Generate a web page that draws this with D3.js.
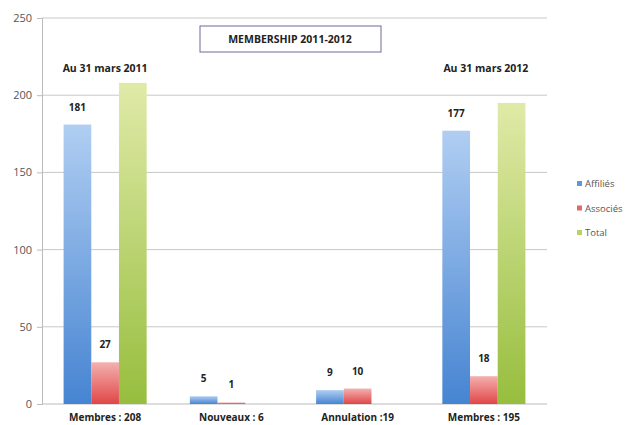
<!DOCTYPE html>
<html>
<head>
<meta charset="utf-8">
<script src="https://cdn.jsdelivr.net/npm/d3@7"></script>
<style>
  body { margin: 0; background: #fff; }
  text { font-family: "Open Sans", "DejaVu Sans", sans-serif; }
</style>
</head>
<body>
<svg width="627" height="425"></svg>
<script>
// data
var categories = ['Membres : 208', 'Nouveaux : 6', 'Annulation :19', 'Membres : 195'];
var seriesNames = ['Affiliés', 'Associés', 'Total'];
var affilies = [181, 5, 9, 177];
var associes = [27, 1, 10, 18];
var total = [208, null, null, 195];
var yTicks = [0, 50, 100, 150, 200, 250];

var svg = d3.select('svg');

var plotLeft = 42, plotRight = 547, plotTop = 18, plotBottom = 404;

var scaleX = d3.scaleBand().domain(categories).range([plotLeft, plotRight]);
var scaleSeries = d3.scaleBand().domain(seriesNames)
    .range([0, scaleX.bandwidth()]).paddingOuter(0.78).paddingInner(0);
var scaleY = d3.scaleLinear().domain([0, 250]).range([plotBottom, plotTop]);

// gradients, light at top, darker at bottom
var grads = [
    ['gBlue', '#b0cef2', '#4684d2'],
    ['gRed', '#f4b0b0', '#e04646'],
    ['gGreen', '#e0eaa8', '#97be3e']
];
var defs = svg.append('defs');
grads.forEach(function(g){
    var lg = defs.append('linearGradient').attr('id', g[0])
        .attr('x1', 0).attr('y1', 0).attr('x2', 0).attr('y2', 1);
    lg.append('stop').attr('offset', '0%').attr('stop-color', g[1]);
    lg.append('stop').attr('offset', '100%').attr('stop-color', g[2]);
});

// gridlines
svg.append('g').selectAll('line')
    .data(yTicks.slice(1))
    .enter()
    .append('line')
    .attr('x1', plotLeft).attr('x2', plotRight)
    .attr('y1', function(d){ return scaleY(d); })
    .attr('y2', function(d){ return scaleY(d); })
    .attr('stroke', '#c8c8c8')
    .attr('stroke-width', 1);

// y axis
var yAxis = svg.append('g')
    .attr('transform', 'translate(' + plotLeft + ',0)')
    .call(d3.axisLeft(scaleY).tickValues(yTicks).tickSize(5).tickPadding(5));
yAxis.select('.domain').attr('stroke', '#bbbbbb');
yAxis.selectAll('.tick line').attr('stroke', '#bbbbbb');
yAxis.selectAll('.tick text').attr('fill', '#555').attr('font-size', 11)
    .style('font-family', '"Open Sans", sans-serif');

// baseline
svg.append('line')
    .attr('x1', plotLeft).attr('x2', plotRight)
    .attr('y1', plotBottom).attr('y2', plotBottom)
    .attr('stroke', '#bbbbbb');

var series = [
    {name: 'Affiliés', values: affilies, fill: 'url(#gBlue)', label: true},
    {name: 'Associés', values: associes, fill: 'url(#gRed)', label: true},
    {name: 'Total', values: total, fill: 'url(#gGreen)', label: false}
];

series.forEach(function(s){
    var rows = categories.map(function(c, i){ return {cat: c, v: s.values[i]}; })
        .filter(function(d){ return d.v !== null; });

    svg.append('g').selectAll('rect')
        .data(rows)
        .enter()
        .append('rect')
        .attr('x', function(d){ return scaleX(d.cat) + scaleSeries(s.name); })
        .attr('width', scaleSeries.bandwidth())
        .attr('y', function(d){ return scaleY(d.v); })
        .attr('height', function(d){ return plotBottom - scaleY(d.v); })
        .attr('fill', s.fill);

    if (s.label) {
        svg.append('g').selectAll('text')
            .data(rows)
            .enter()
            .append('text')
            .attr('x', function(d){ return scaleX(d.cat) + scaleSeries(s.name) + scaleSeries.bandwidth() / 2; })
            .attr('y', function(d){ return scaleY(d.v) - 14; })
            .attr('text-anchor', 'middle')
            .attr('font-size', 10)
            .attr('font-weight', 'bold')
            .attr('fill', '#222')
            .text(function(d){ return d.v; });
    }
});

// category labels
svg.append('g').selectAll('text')
    .data(categories)
    .enter()
    .append('text')
    .attr('x', function(d){ return scaleX(d) + scaleX.bandwidth() / 2; })
    .attr('y', 421)
    .attr('text-anchor', 'middle')
    .attr('font-size', 10)
    .attr('font-weight', 'bold')
    .attr('fill', '#222')
    .text(function(d){ return d; });

// title box
svg.append('rect')
    .attr('x', 200).attr('y', 26).attr('width', 181).attr('height', 26)
    .attr('fill', '#fff').attr('stroke', '#6a6a9a').attr('stroke-width', 1);
svg.append('text')
    .attr('x', 290).attr('y', 43)
    .attr('text-anchor', 'middle')
    .attr('font-size', 10.5)
    .attr('font-weight', 'bold')
    .attr('fill', '#222')
    .text('MEMBERSHIP 2011-2012');

// date notes
svg.append('text')
    .attr('x', scaleX(categories[0]) + scaleX.bandwidth() / 2).attr('y', 72)
    .attr('text-anchor', 'middle').attr('font-size', 10.5).attr('font-weight', 'bold')
    .attr('fill', '#222').text('Au 31 mars 2011');
svg.append('text')
    .attr('x', scaleX(categories[3]) + scaleX.bandwidth() / 2 + 2).attr('y', 72)
    .attr('text-anchor', 'middle').attr('font-size', 10.5).attr('font-weight', 'bold')
    .attr('fill', '#222').text('Au 31 mars 2012');

// legend
var legendColors = ['#5b9ad8', '#e06a6a', '#b8d45a'];
var legend = svg.append('g').attr('transform', 'translate(577,184)');
seriesNames.forEach(function(n, i){
    var g = legend.append('g').attr('transform', 'translate(0,' + (i * 24.5) + ')');
    g.append('rect').attr('x', 0).attr('y', -3).attr('width', 5).attr('height', 5)
        .attr('fill', legendColors[i]);
    g.append('text').attr('x', 8).attr('y', 3)
        .attr('font-size', 9.5).attr('fill', '#555').text(n);
});
</script>
</body>
</html>
